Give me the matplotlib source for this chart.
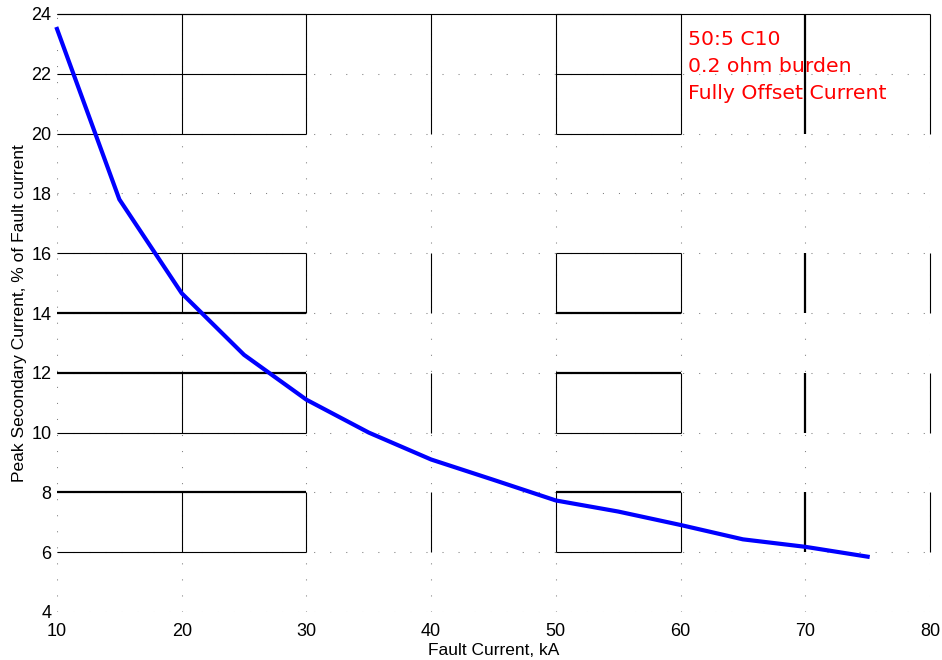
import matplotlib
matplotlib.use("Agg")
import matplotlib.pyplot as plt

# peak secondary current vs. fault current, 50:5 C10 CT
fault_ka = [10, 15, 20, 25, 30, 35, 40, 45, 50, 55, 60, 65, 70, 75]
peak_pct = [23.5, 17.8, 14.66, 12.6, 11.1, 10.0, 9.1, 8.42, 7.73, 7.36, 6.91, 6.43, 6.18, 5.85]

x_ticks = [10, 20, 30, 40, 50, 60, 70, 80]
y_ticks = [4, 6, 8, 10, 12, 14, 16, 18, 20, 22, 24]

note_lines = ["50:5 C10", "0.2 ohm burden", "Fully Offset Current"]

# solid pieces of the grid: (y_low, y_high) bands with solid verticals,
# rows with solid horizontals over the given x spans
solid_bands = [(20, 24), (14, 16), (10, 12), (6, 8)]
solid_rows = [24, 22, 20, 16, 14, 12, 10, 8, 6]
solid_spans = [(10, 30), (50, 60)]
heavy_rows = [14, 12, 8]
heavy_cols = [70]

plt.rcParams["font.family"] = ["Liberation Sans", "DejaVu Sans"]
plt.rcParams["lines.scale_dashes"] = False

fig = plt.figure(figsize=(9.42, 6.6), dpi=100)
ax = fig.add_axes([57 / 942, 48 / 660, 873 / 942, 598 / 660])

ax.set_xlim(x_ticks[0], x_ticks[-1])
ax.set_ylim(y_ticks[0], y_ticks[-1])
ax.set_xticks(x_ticks)
ax.set_yticks(y_ticks)
ax.tick_params(length=0, labelsize=13)
ax.tick_params(axis="x", pad=8)
ax.tick_params(axis="y", pad=4)
for spine in ax.spines.values():
    spine.set_visible(False)

ax.grid(True, color="#7f7f7f", linestyle=(0, (0.75, 10.8)), linewidth=0.75)

for lo, hi in solid_bands:
    for x in x_ticks[1:]:
        lw = 1.6 if x in heavy_cols else 0.8
        ax.vlines(x, lo, hi, colors="black", linewidth=lw, zorder=4, clip_on=False)
for y in solid_rows:
    lw = 1.6 if y in heavy_rows else 0.8
    for x0, x1 in solid_spans:
        ax.hlines(y, x0, x1, colors="black", linewidth=lw, zorder=4, clip_on=False)
ax.hlines(y_ticks[-1], x_ticks[0], x_ticks[-1], colors="black", linewidth=0.8,
          zorder=4, clip_on=False)

ax.plot(fault_ka, peak_pct, color="#0000ff", linewidth=3, zorder=5,
        solid_joinstyle="miter", clip_on=False)

for i, line in enumerate(note_lines):
    y_px = 45 + 27 * i
    ax.text(631 / 873, (612 - y_px) / 598, line, transform=ax.transAxes,
            color="#ff0000", fontsize=14.7, family="DejaVu Sans",
            ha="left", va="baseline", zorder=3)

ax.set_xlabel("Fault Current, kA", fontsize=12.5, labelpad=2)
ax.set_ylabel("Peak Secondary Current, % of Fault current", fontsize=12.5, labelpad=3)

fig.savefig("out.png", dpi=100, facecolor="white")
